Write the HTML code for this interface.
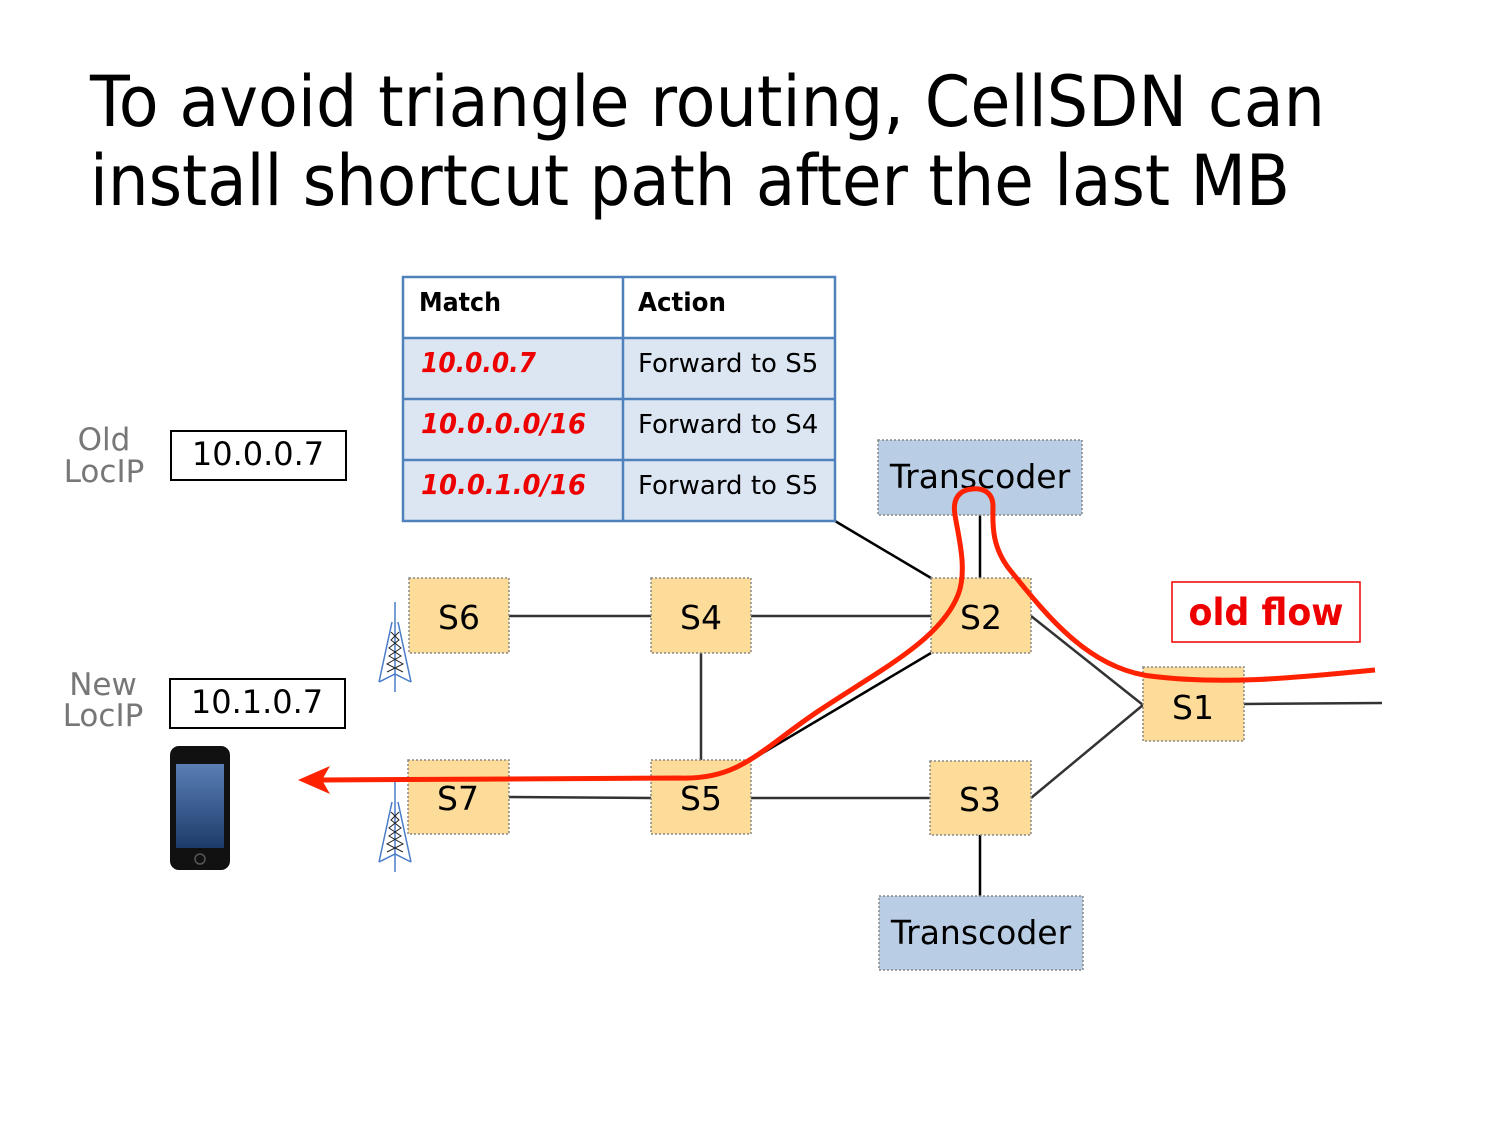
<!DOCTYPE html>
<html><head><meta charset="utf-8"><style>
html,body{margin:0;padding:0;background:#fff;}
svg{display:block;}
text{font-family:"DejaVu Sans","Liberation Sans",sans-serif;}
</style></head><body>
<svg width="1500" height="1125" viewBox="0 0 1500 1125" xmlns="http://www.w3.org/2000/svg">
<defs>
<linearGradient id="scr" x1="0" y1="0" x2="0" y2="1"><stop offset="0" stop-color="#5a7fb5"/><stop offset="1" stop-color="#1d3b6a"/></linearGradient>
<g id="tower" stroke="#4a7cc8" fill="none" stroke-width="1.5">
<line x1="0" y1="0" x2="0" y2="90"/>
<path d="M-3 20 L-16 80 M3 20 L16 80 M-16 80 L0 72 L16 80"/>
<path d="M-4 30 L4 38 L-6 46 L6 54 L-8 62 L8 70 M4 30 L-4 38 L6 46 L-6 54 L8 62 L-8 70" stroke="#222" stroke-width="1"/>
</g>
</defs>
<text x="90" y="126" font-size="70" textLength="1235" lengthAdjust="spacingAndGlyphs">To avoid triangle routing, CellSDN can</text>
<text x="90" y="205" font-size="70" textLength="1200" lengthAdjust="spacingAndGlyphs">install shortcut path after the last MB</text>

<g stroke="#333" stroke-width="2.5" fill="none">
<line x1="509" y1="616" x2="651" y2="616"/>
<line x1="751" y1="616" x2="931" y2="616"/>
<line x1="701" y1="653" x2="701" y2="760"/>
<line x1="751" y1="760" x2="931" y2="653" stroke="#000"/>
<line x1="835" y1="521" x2="931" y2="578" stroke="#000"/>
<line x1="980" y1="515" x2="980" y2="578" stroke="#000"/>
<line x1="1031" y1="616" x2="1143" y2="705"/>
<line x1="1031" y1="798" x2="1143" y2="705"/>
<line x1="1244" y1="704" x2="1382" y2="703"/>
<line x1="509" y1="797" x2="651" y2="798"/>
<line x1="751" y1="798" x2="930" y2="798"/>
<line x1="980" y1="835" x2="980" y2="896" stroke="#000"/>
</g>

<g>
<rect x="403" y="277" width="432" height="61" fill="#fff"/>
<rect x="403" y="338" width="432" height="183" fill="#dce6f2"/>
<g stroke="#4f81bd" stroke-width="2.5" fill="none">
<rect x="403" y="277" width="432" height="244"/>
<line x1="623" y1="277" x2="623" y2="521"/>
<line x1="403" y1="338" x2="835" y2="338"/>
<line x1="403" y1="399" x2="835" y2="399"/>
<line x1="403" y1="460" x2="835" y2="460"/>
</g>
<text x="419" y="311" font-size="26" font-weight="bold" textLength="82" lengthAdjust="spacingAndGlyphs">Match</text>
<text x="638" y="311" font-size="26" font-weight="bold" textLength="88" lengthAdjust="spacingAndGlyphs">Action</text>
<g fill="#e00" font-size="28" font-style="italic" font-weight="bold">
<text x="421" y="372" textLength="115" lengthAdjust="spacingAndGlyphs">10.0.0.7</text>
<text x="421" y="433" textLength="165" lengthAdjust="spacingAndGlyphs">10.0.0.0/16</text>
<text x="421" y="494" textLength="165" lengthAdjust="spacingAndGlyphs">10.0.1.0/16</text>
</g>
<g font-size="26">
<text x="638" y="372">Forward to S5</text>
<text x="638" y="433">Forward to S4</text>
<text x="638" y="494">Forward to S5</text>
</g>
</g>

<g fill="#777" font-size="31" text-anchor="middle">
<text x="104" y="450">Old</text><text x="104" y="482">LocIP</text>
<text x="103" y="695">New</text><text x="103" y="726">LocIP</text>
</g>
<rect x="171" y="431" width="175" height="49" fill="#fff" stroke="#000" stroke-width="2"/>
<text x="258" y="465" font-size="32" text-anchor="middle">10.0.0.7</text>
<rect x="170" y="679" width="175" height="49" fill="#fff" stroke="#000" stroke-width="2"/>
<text x="257" y="713" font-size="32" text-anchor="middle">10.1.0.7</text>

<rect x="170" y="746" width="60" height="124" rx="9" fill="#111"/>
<rect x="176" y="764" width="48" height="84" fill="url(#scr)"/>
<circle cx="200" cy="859" r="5" fill="none" stroke="#555" stroke-width="1.5"/>

<use href="#tower" x="395" y="602"/>
<use href="#tower" x="395" y="782"/>

<g stroke="#888" stroke-width="1.5" stroke-dasharray="2,2">
<rect x="878" y="440" width="204" height="75" fill="#b9cde5"/>
<rect x="879" y="896" width="204" height="74" fill="#b9cde5"/>
<rect x="409" y="578" width="100" height="75" fill="#fddc9a"/>
<rect x="651" y="578" width="100" height="75" fill="#fddc9a"/>
<rect x="931" y="578" width="100" height="75" fill="#fddc9a"/>
<rect x="408" y="760" width="101" height="74" fill="#fddc9a"/>
<rect x="651" y="760" width="100" height="74" fill="#fddc9a"/>
<rect x="930" y="761" width="101" height="74" fill="#fddc9a"/>
<rect x="1143" y="667" width="101" height="74" fill="#fddc9a"/>
</g>
<g font-size="33" text-anchor="middle">
<text x="980" y="488">Transcoder</text>
<text x="981" y="944">Transcoder</text>
<text x="459" y="629">S6</text>
<text x="701" y="629">S4</text>
<text x="981" y="629">S2</text>
<text x="458" y="810">S7</text>
<text x="701" y="810">S5</text>
<text x="980" y="811">S3</text>
<text x="1193" y="719">S1</text>
</g>

<rect x="1172" y="582" width="188" height="60" fill="#fff" stroke="#e00" stroke-width="1.5"/>
<text x="1266" y="625" font-size="37" font-weight="bold" fill="#e00" text-anchor="middle" textLength="155" lengthAdjust="spacingAndGlyphs">old flow</text>

<path d="M1375 670 C1310 676 1230 686 1150 676 C1090 668 1050 620 1010 570 C990 545 993 520 993 505 C992 490 980 488 972 489 C960 490 952 498 955 515 C958 535 968 570 958 595 C940 640 880 670 820 710 C760 750 740 780 680 778 L320 780" fill="none" stroke="#ff2200" stroke-width="5"/>
<path d="M298 780 L330 766 L322 780 L330 794 Z" fill="#ff2200"/>
</svg>
</body></html>
